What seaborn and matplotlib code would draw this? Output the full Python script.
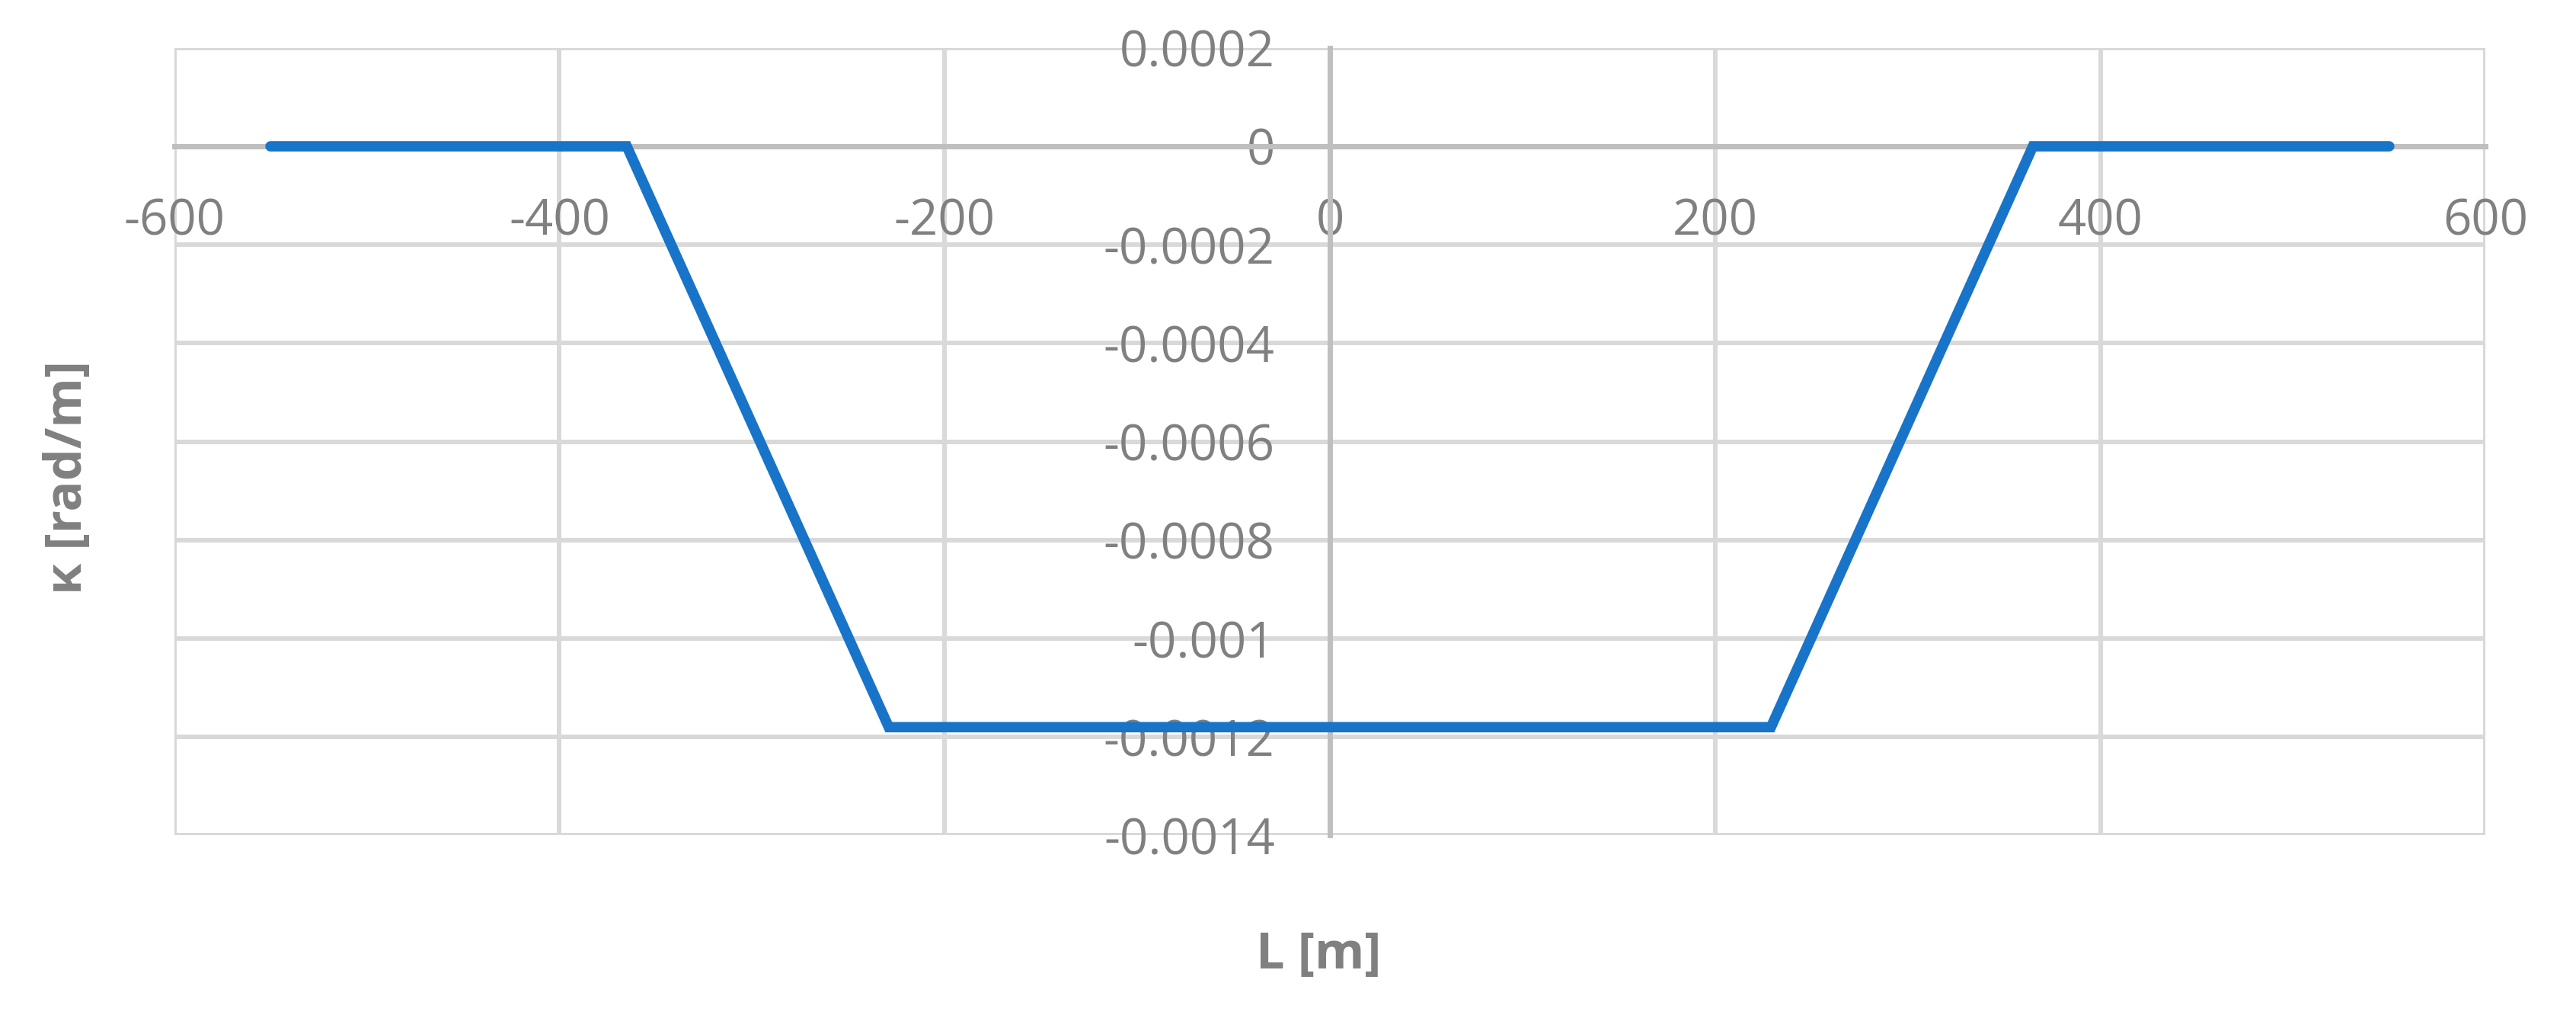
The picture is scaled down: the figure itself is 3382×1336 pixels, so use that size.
import matplotlib
matplotlib.use("Agg")
import matplotlib.pyplot as plt
import pandas as pd
import seaborn as sns

# curvature profile along the section
L_M = [-550, -365, -229, 229, 365, 550]
KAPPA = [0.0, 0.0, -0.00118, -0.00118, 0.0, 0.0]

X_TICKS = [-600, -400, -200, 0, 200, 400, 600]
Y_TICKS = [0.0002, 0, -0.0002, -0.0004, -0.0006, -0.0008, -0.001, -0.0012, -0.0014]
Y_TICK_LABELS = ["0.0002", "0", "-0.0002", "-0.0004", "-0.0006", "-0.0008", "-0.001", "-0.0012", "-0.0014"]

LINE_COLOR = "#1874C8"
GRID_COLOR = "#D9D9D9"
AXIS_COLOR = "#BFBFBF"
TEXT_COLOR = "#808080"

sns.set_theme(style="white")
plt.rcParams["font.family"] = ["Open Sans", "DejaVu Sans"]

df = pd.DataFrame({"L": L_M, "kappa": KAPPA})

fig = plt.figure(figsize=(33.82, 13.36), dpi=100)
ax = fig.add_axes([0.0676, 0.1793, 0.8973, 0.7737])

sns.lineplot(data=df, x="L", y="kappa", ax=ax, color=LINE_COLOR, linewidth=9.8,
             solid_capstyle="round", solid_joinstyle="miter", zorder=4, sort=False)

ax.set_xlim(-600, 600)
ax.set_ylim(-0.0014, 0.0002)
ax.set_xticks(X_TICKS)
ax.set_xticklabels([str(v) for v in X_TICKS])
ax.set_yticks(Y_TICKS)
ax.set_yticklabels(Y_TICK_LABELS)

ax.grid(True, color=GRID_COLOR, linewidth=4.3, zorder=0)
ax.set_axisbelow(True)

for side in ["top", "right"]:
    ax.spines[side].set_visible(False)
for side in ["left", "bottom"]:
    ax.spines[side].set_position(("data", 0))
    ax.spines[side].set_color(AXIS_COLOR)
    ax.spines[side].set_linewidth(5)
    ax.spines[side].set_zorder(2)

ax.tick_params(axis="y", length=0, pad=52, labelsize=47, labelcolor=TEXT_COLOR)
ax.tick_params(axis="x", length=0, pad=48, labelsize=47, labelcolor=TEXT_COLOR)

ax.set_xlabel("")
ax.set_ylabel("")
fig.text(0.512, 0.062, "L [m]", ha="center", va="center", fontsize=48,
         fontweight="bold", color=TEXT_COLOR)
fig.text(0.0265, 0.531, "κ [rad/m]", ha="center", va="center", rotation=90,
         fontsize=48, fontweight="bold", color=TEXT_COLOR)

fig.savefig("out.png", dpi=100, facecolor="white")
plt.close(fig)
